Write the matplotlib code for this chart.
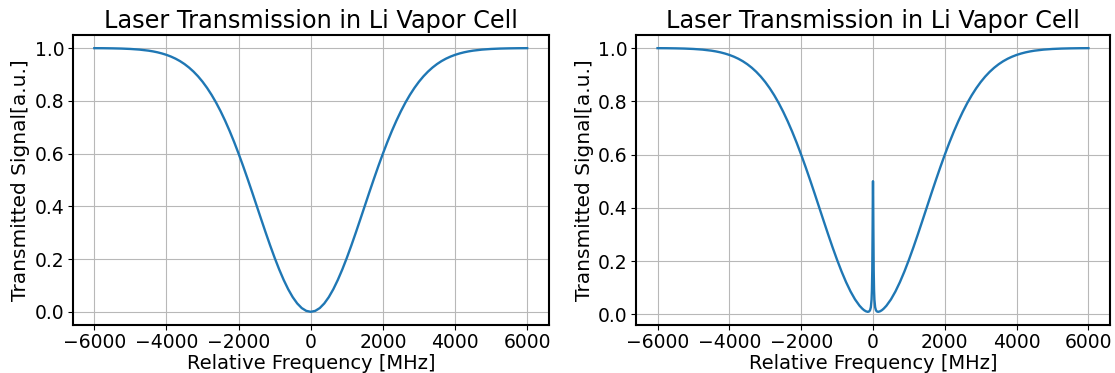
import matplotlib.pyplot as plt

# frequency detuning [MHz] and transmission of the plain Doppler-broadened dip
freq_doppler = [
    -6000, -5750, -5500, -5250, -5000, -4750, -4500,
    -4375, -4250, -4125, -4000, -3875, -3750, -3625, -3500, -3375, -3250,
    -3125, -3000, -2875, -2750, -2625, -2500, -2375, -2250, -2125, -2000,
    -1875, -1750, -1625, -1500, -1375, -1250, -1125, -1000, -875, -750,
    -625, -500, -375, -250, -125, 0, 125, 250, 375, 500, 625, 750, 875,
    1000, 1125, 1250, 1375, 1500, 1625, 1750, 1875, 2000, 2125, 2250, 2375,
    2500, 2625, 2750, 2875, 3000, 3125, 3250, 3375, 3500, 3625, 3750, 3875,
    4000, 4125, 4250, 4375,
    4500, 4750, 5000, 5250, 5500, 5750, 6000]
trans_doppler = [
    0.9997, 0.9995, 0.9990, 0.9982, 0.9967, 0.9943, 0.9903,
    0.9875, 0.9840, 0.9796, 0.9743, 0.9678, 0.9600, 0.9506, 0.9394, 0.9262, 0.9108,
    0.8930, 0.8725, 0.8491, 0.8228, 0.7934, 0.7607, 0.7249, 0.6860, 0.6442, 0.5996,
    0.5527, 0.5038, 0.4536, 0.4024, 0.3512, 0.3006, 0.2514, 0.2045, 0.1607, 0.1208,
    0.0855, 0.0556, 0.0317, 0.0142, 0.0036, 0.0, 0.0036, 0.0142, 0.0317, 0.0556,
    0.0855, 0.1208, 0.1607,
    0.2045, 0.2514, 0.3006, 0.3512, 0.4024, 0.4536, 0.5038, 0.5527, 0.5996,
    0.6442, 0.6860, 0.7249,
    0.7607, 0.7934, 0.8228, 0.8491, 0.8725, 0.8930, 0.9108, 0.9262, 0.9394,
    0.9506, 0.9600, 0.9678,
    0.9743, 0.9796, 0.9840, 0.9875,
    0.9903, 0.9943, 0.9967, 0.9982, 0.9990, 0.9995, 0.9997]

# same scan with the narrow saturation peak at zero detuning
freq_sat = [
    -6000, -5750, -5500, -5250, -5000, -4750, -4500,
    -4375, -4250, -4125, -4000, -3875, -3750, -3625, -3500, -3375, -3250,
    -3125, -3000, -2875, -2750, -2625, -2500, -2375, -2250, -2125, -2000,
    -1875, -1750, -1625, -1500, -1375, -1250, -1125, -1000, -875, -750, -625,
    -500, -375, -300, -250, -200, -150, -120, -100, -80, -60, -40, -30, -20,
    -10, -5, 0, 5, 10, 20, 30, 40, 60, 80, 100, 120, 150, 200, 250, 300, 375,
    500,
    625, 750, 875, 1000, 1125, 1250, 1375, 1500, 1625, 1750, 1875, 2000,
    2125, 2250, 2375, 2500, 2625, 2750, 2875, 3000, 3125, 3250, 3375, 3500,
    3625, 3750, 3875, 4000, 4125, 4250, 4375,
    4500, 4750, 5000, 5250, 5500, 5750, 6000]
trans_sat = [
    0.9997, 0.9995, 0.9990, 0.9982, 0.9967, 0.9943, 0.9903,
    0.9875, 0.9840, 0.9796, 0.9743, 0.9678, 0.9600, 0.9506, 0.9394, 0.9262, 0.9108,
    0.8930, 0.8725, 0.8491, 0.8228, 0.7934, 0.7607, 0.7249, 0.6860, 0.6442, 0.5996,
    0.5527, 0.5038, 0.4536, 0.4024, 0.3512, 0.3006, 0.2514, 0.2046, 0.1608, 0.1210, 0.0858,
    0.0560, 0.0324, 0.0215, 0.0157, 0.0115, 0.0094, 0.0100, 0.0119, 0.0164, 0.0266,
    0.0550, 0.0896, 0.1645,
    0.3311, 0.4434, 0.5000, 0.4434, 0.3311, 0.1645, 0.0896, 0.0550, 0.0266, 0.0164,
    0.0119, 0.0100, 0.0094, 0.0115, 0.0157, 0.0215, 0.0324,
    0.0560,
    0.0858, 0.1210, 0.1608, 0.2046, 0.2514, 0.3006, 0.3512, 0.4024, 0.4536, 0.5038,
    0.5527, 0.5996,
    0.6442, 0.6860, 0.7249, 0.7607, 0.7934, 0.8228, 0.8491, 0.8725, 0.8930, 0.9108,
    0.9262, 0.9394,
    0.9506, 0.9600, 0.9678, 0.9743, 0.9796, 0.9840, 0.9875,
    0.9903, 0.9943, 0.9967, 0.9982, 0.9990, 0.9995, 0.9997]

xticks = [-6000, -4000, -2000, 0, 2000, 4000, 6000]
yticks = [0.0, 0.2, 0.4, 0.6, 0.8, 1.0]

fig = plt.figure(figsize=(11.15, 3.73), dpi=100)
ax1 = fig.add_axes([0.0652, 0.1287, 0.4270, 0.7775])
ax2 = fig.add_axes([0.5704, 0.1287, 0.4251, 0.7775])

for ax, f, t in [(ax1, freq_doppler, trans_doppler), (ax2, freq_sat, trans_sat)]:
    ax.plot(f, t, color='#1f77b4', lw=1.7)
    ax.set_title('Laser Transmission in Li Vapor Cell', fontsize=17.3, pad=5)
    ax.set_xlabel('Relative Frequency [MHz]', fontsize=14, labelpad=1)
    ax.set_ylabel('Transmitted Signal[a.u.]', fontsize=14.5, labelpad=3)
    ax.set_xticks(xticks)
    ax.set_yticks(yticks)
    ax.tick_params(labelsize=13.5, pad=2.5)
    ax.grid(True, color='#b8b8b8', lw=0.8)
    for s in ax.spines.values():
        s.set_linewidth(1.5)

fig.savefig('out.png', dpi=100)
